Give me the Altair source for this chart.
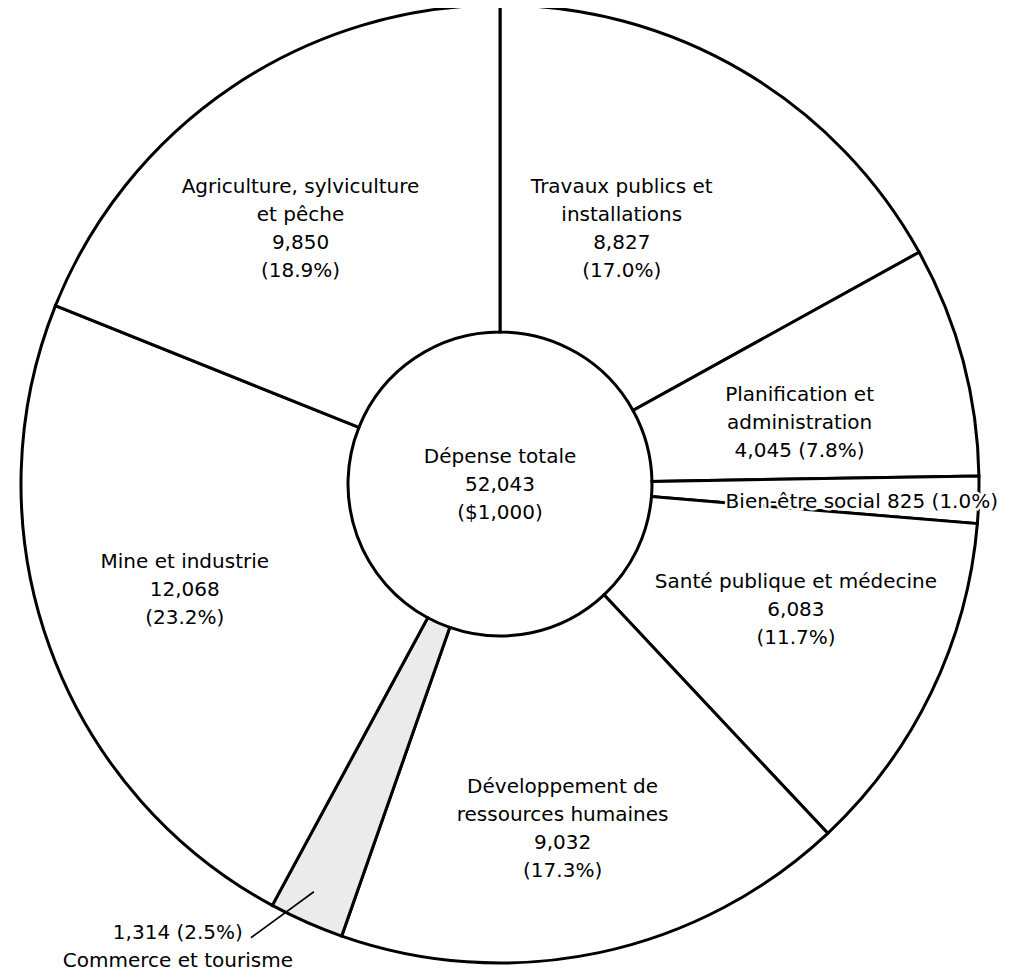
import altair as alt
import pandas as pd

# ---- data ----
categories = [
    "Travaux publics et installations",
    "Planification et administration",
    "Bien-être social",
    "Santé publique et médecine",
    "Développement de ressources humaines",
    "Commerce et tourisme",
    "Mine et industrie",
    "Agriculture, sylviculture et pêche",
]
values = [8827, 4045, 825, 6083, 9032, 1314, 12068, 9850]
value_text = ["8,827", "4,045", "825", "6,083", "9,032", "1,314", "12,068", "9,850"]
pct_text = ["(17.0%)", "(7.8%)", "(1.0%)", "(11.7%)", "(17.3%)", "(2.5%)", "(23.2%)", "(18.9%)"]
name_lines = [
    "Travaux publics et\ninstallations",
    "Planification et\nadministration",
    "Bien-être social",
    "Santé publique et médecine",
    "Développement de\nressources humaines",
    "Commerce et tourisme",
    "Mine et industrie",
    "Agriculture, sylviculture\net pêche",
]
center_lines = ["Dépense totale", "52,043", "($1,000)"]

# ---- style / layout (not data) ----
W, H = 984, 952
CX, CY = W / 2, H / 2
R_OUT, R_IN = 479, 152
FONT = "DejaVu Sans"
FS = 20
LH = 28
fill_of = {c: "white" for c in categories}
fill_of["Commerce et tourisme"] = "#ebebeb"

# label layouts: (style, radius, dx, dy)
layout = {
    "Travaux publics et installations": ("stack", 283, -22, -11),
    "Planification et administration": ("pair", 306, 4, 18),
    "Bien-être social": ("inline", 362, 0, 6),
    "Santé publique et médecine": ("stack", 322, 6, -14),
    "Développement de ressources humaines": ("stack", 351, -10, 2),
    "Commerce et tourisme": ("below", 500, -120, 6),
    "Mine et industrie": ("stack", 332, -3, -7),
    "Agriculture, sylviculture et pêche": ("stack", 324, -18, 13),
}

labels = []
for c, n, v, p in zip(categories, name_lines, value_text, pct_text):
    style = layout[c][0]
    if style == "stack":
        labels.append(f"{n}\n{v}\n{p}")
    elif style == "pair":
        labels.append(f"{n}\n{v} {p}")
    elif style == "inline":
        labels.append(f"{n} {v} {p}")
    else:
        labels.append(f"{v} {p}\n{n}")

df = pd.DataFrame({
    "cat": categories,
    "value": values,
    "idx": list(range(len(categories))),
    "label": labels,
})

arcs = alt.Chart(df).mark_arc(
    innerRadius=R_IN, outerRadius=R_OUT, stroke="black", strokeWidth=3
).encode(
    theta=alt.Theta("value:Q", stack=True),
    order=alt.Order("idx:Q"),
    color=alt.Color("cat:N",
                    scale=alt.Scale(domain=categories, range=[fill_of[c] for c in categories]),
                    legend=None),
)


def with_mid(chart):
    return chart.transform_window(
        cum="sum(value)", sort=[{"field": "idx"}], frame=[None, 0]
    ).transform_joinaggregate(
        total="sum(value)"
    ).transform_calculate(
        mid="(datum.cum - datum.value / 2) / datum.total * 2 * PI"
    )


def label_layer(cat, text, halo=False):
    _, r, dx, dy = layout[cat]
    n_lines = text.count("\n") + 1
    ch = with_mid(alt.Chart(df)).transform_filter(
        alt.datum.cat == cat
    ).transform_calculate(
        px=f"{CX} + {r} * sin(datum.mid)",
        py=f"{CY} - {r} * cos(datum.mid)",
    )
    props = dict(
        font=FONT, fontSize=FS, lineHeight=LH, lineBreak="\n",
        dx=dx, dy=dy - (n_lines - 1) * LH / 2, color="#000000",
        align="center", baseline="middle",
    )
    if halo:
        props.update(color="white", stroke="white", strokeWidth=5)
    return ch.mark_text(**props).encode(
        x=alt.X("px:Q", scale=None, axis=None),
        y=alt.Y("py:Q", scale=None, axis=None),
        text="label:N",
    )


label_layers = [label_layer(c, t) for c, t in zip(categories, labels)]
halo_layer = label_layer("Bien-être social", labels[2], halo=True)

leader = with_mid(alt.Chart(df)).transform_filter(
    alt.datum.cat == "Commerce et tourisme"
).transform_calculate(
    x1=f"{CX} + 448 * sin(datum.mid) - 5",
    y1=f"{CY} - 448 * cos(datum.mid) - 2",
).transform_calculate(
    x2="datum.x1 - 63",
    y2="datum.y1 + 46",
).mark_rule(color="black", strokeWidth=1.6).encode(
    x=alt.X("x1:Q", scale=None, axis=None),
    y=alt.Y("y1:Q", scale=None, axis=None),
    x2="x2:Q",
    y2="y2:Q",
)

center_text = "\n".join(center_lines)
center_df = pd.DataFrame({"t": [center_text]})
center = alt.Chart(center_df).mark_text(
    font=FONT, fontSize=FS, lineHeight=LH, lineBreak="\n", color="#000000",
    align="center", baseline="middle",
    dy=1 - (len(center_lines) - 1) * LH / 2,
).encode(text="t:N")

chart = alt.layer(arcs, halo_layer, *label_layers, leader, center).properties(
    width=W, height=H, autosize="none",
    padding={"left": 0, "top": 0, "right": 12, "bottom": 12},
).configure_view(stroke=None)

chart.save("out.html", embed_options={"renderer": "svg", "actions": False})
